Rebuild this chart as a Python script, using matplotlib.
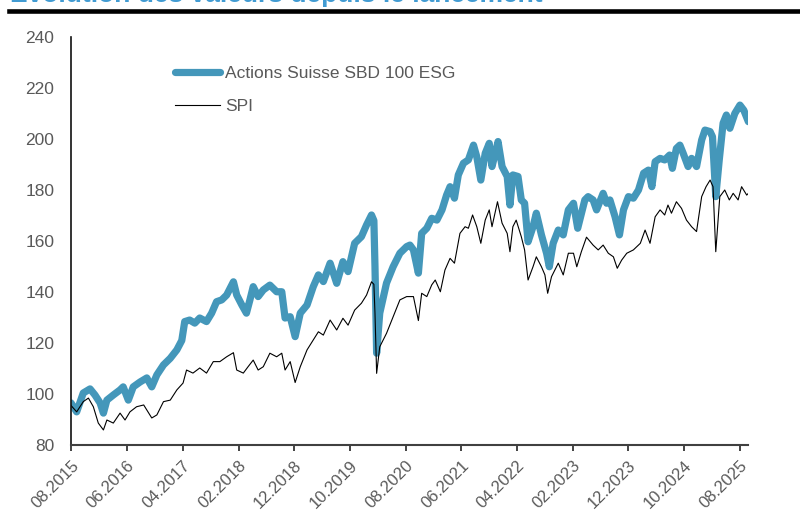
import pandas as pd
import matplotlib
matplotlib.use("Agg")
import matplotlib.pyplot as plt
from matplotlib.lines import Line2D

plt.rcParams['font.family'] = ['Liberation Sans', 'DejaVu Sans']

# Actions Suisse SBD 100 ESG
esg_dates = [
    "2015-08-01", "2015-09-01", "2015-10-07", "2015-11-13", "2015-12-10", "2016-01-07", "2016-01-25",
    "2016-02-13", "2016-03-19", "2016-04-25", "2016-05-12", "2016-06-09", "2016-07-06", "2016-08-12",
    "2016-09-18", "2016-10-15", "2016-11-12", "2016-12-18", "2017-01-24", "2017-03-01", "2017-03-28",
    "2017-04-13", "2017-05-10", "2017-06-07", "2017-07-04", "2017-08-10", "2017-09-07", "2017-10-04",
    "2017-11-01", "2017-11-28", "2018-01-04", "2018-01-22", "2018-02-19", "2018-03-16", "2018-04-04",
    "2018-04-22", "2018-05-19", "2018-06-16", "2018-07-22", "2018-08-28", "2018-09-25", "2018-10-13",
    "2018-11-10", "2018-12-07", "2019-01-04", "2019-02-10", "2019-03-16", "2019-04-13", "2019-05-10",
    "2019-06-16", "2019-07-22", "2019-08-25", "2019-09-22", "2019-10-28", "2019-12-04", "2020-01-01",
    "2020-01-28", "2020-02-10", "2020-02-16", "2020-02-25", "2020-03-13", "2020-04-19", "2020-05-25",
    "2020-07-01", "2020-08-07", "2020-08-25", "2020-09-13", "2020-10-10", "2020-10-28", "2020-11-25",
    "2020-12-22", "2021-01-19", "2021-02-16", "2021-03-13", "2021-04-01", "2021-04-25", "2021-05-16",
    "2021-06-13", "2021-07-10", "2021-08-07", "2021-08-25", "2021-09-16", "2021-10-10", "2021-11-01",
    "2021-11-16", "2021-12-04", "2021-12-19", "2022-01-10", "2022-02-07", "2022-02-22", "2022-03-10",
    "2022-04-07", "2022-04-25", "2022-05-13", "2022-06-01", "2022-06-28", "2022-07-16", "2022-08-13",
    "2022-09-10", "2022-09-25", "2022-10-16", "2022-11-13", "2022-12-10", "2023-01-07", "2023-02-04",
    "2023-02-27", "2023-04-07", "2023-04-25", "2023-05-22", "2023-06-10", "2023-07-16", "2023-08-04",
    "2023-08-22", "2023-09-19", "2023-10-13", "2023-11-04", "2023-12-01", "2023-12-28", "2024-01-25",
    "2024-02-22", "2024-03-19", "2024-04-07", "2024-04-25", "2024-05-22", "2024-06-16", "2024-07-13",
    "2024-07-28", "2024-08-19", "2024-09-07", "2024-09-25", "2024-10-22", "2024-11-10", "2024-12-07",
    "2025-01-04", "2025-01-22", "2025-02-19", "2025-03-04", "2025-03-22", "2025-04-10", "2025-05-01",
    "2025-05-19", "2025-06-07", "2025-07-04", "2025-08-01", "2025-08-22", "2025-09-16",
]
esg_values = [
    96.5, 93.0, 100.4, 102.0, 99.6, 96.5, 92.5,
    97.6, 99.6, 101.6, 102.8, 97.6, 102.8, 104.7,
    106.3, 102.8, 107.5, 111.4, 114.0, 117.3, 121.0,
    128.4, 129.0, 127.8, 129.8, 128.4, 131.7, 136.2,
    136.9, 138.8, 144.0, 138.8, 134.9, 131.7, 136.9,
    142.1, 138.2, 140.8, 142.7, 140.1, 140.1, 129.8,
    130.3, 122.5, 131.7, 134.9, 142.1, 146.7, 144.1,
    151.3, 143.4, 151.9, 148.0, 159.1, 161.7, 166.3,
    170.2, 168.0, 150.0, 116.0, 131.7, 143.5, 149.9,
    155.2, 157.8, 158.4, 156.5, 147.4, 163.0, 165.0,
    168.9, 168.2, 172.2, 178.0, 181.3, 176.8, 185.9,
    190.5, 191.8, 197.6, 193.0, 183.9, 194.4, 198.3,
    189.2, 194.4, 199.0, 189.2, 185.3, 174.1, 185.9,
    185.3, 176.1, 174.8, 159.7, 165.6, 170.9, 162.4,
    155.2, 149.9, 159.1, 164.3, 162.4, 172.2, 174.8,
    165.0, 176.1, 177.4, 176.1, 172.2, 178.7, 174.8,
    176.1, 169.5, 162.4, 172.2, 177.4, 176.8, 180.0,
    186.6, 187.8, 181.3, 191.1, 192.4, 191.8, 193.7,
    188.5, 196.3, 197.6, 194.4, 189.2, 192.4, 189.2,
    199.6, 203.5, 202.9, 200.9, 177.4, 191.8, 206.2,
    209.4, 204.2, 210.0, 213.3, 211.3, 206.8,
]

# SPI
spi_dates = [
    "2015-08-01", "2015-09-01", "2015-10-07", "2015-11-04", "2015-12-01", "2015-12-28", "2016-01-25",
    "2016-02-13", "2016-03-19", "2016-04-25", "2016-05-22", "2016-06-18", "2016-07-24", "2016-09-01",
    "2016-10-15", "2016-11-12", "2016-12-18", "2017-01-24", "2017-03-01", "2017-04-04", "2017-04-23",
    "2017-05-28", "2017-07-04", "2017-08-10", "2017-09-16", "2017-10-22", "2017-11-28", "2018-01-04",
    "2018-01-22", "2018-02-27", "2018-03-25", "2018-04-22", "2018-05-19", "2018-06-16", "2018-07-22",
    "2018-08-28", "2018-09-25", "2018-10-13", "2018-11-10", "2018-12-07", "2019-01-04", "2019-02-10",
    "2019-03-16", "2019-04-13", "2019-05-10", "2019-06-16", "2019-07-22", "2019-08-25", "2019-09-22",
    "2019-10-28", "2019-12-04", "2020-01-01", "2020-01-28", "2020-02-10", "2020-02-16", "2020-02-25",
    "2020-03-13", "2020-04-19", "2020-05-25", "2020-07-01", "2020-08-07", "2020-09-13", "2020-10-10",
    "2020-10-28", "2020-11-25", "2020-12-22", "2021-01-10", "2021-02-07", "2021-03-04", "2021-04-01",
    "2021-04-25", "2021-05-25", "2021-06-22", "2021-07-10", "2021-08-02", "2021-08-25", "2021-09-16",
    "2021-10-10", "2021-11-01", "2021-11-16", "2021-12-16", "2022-01-10", "2022-02-07", "2022-02-22",
    "2022-03-10", "2022-03-28", "2022-04-25", "2022-05-13", "2022-06-01", "2022-06-28", "2022-07-16",
    "2022-08-13", "2022-09-01", "2022-09-16", "2022-10-07", "2022-11-13", "2022-12-10", "2023-01-07",
    "2023-02-04", "2023-02-22", "2023-03-19", "2023-04-16", "2023-05-22", "2023-06-19", "2023-07-16",
    "2023-08-13", "2023-09-10", "2023-10-01", "2023-10-25", "2023-11-22", "2023-12-28", "2024-02-04",
    "2024-03-01", "2024-03-28", "2024-04-25", "2024-05-22", "2024-06-16", "2024-07-04", "2024-07-23",
    "2024-08-19", "2024-09-16", "2024-10-13", "2024-11-10", "2024-12-07", "2025-01-04", "2025-01-28",
    "2025-02-19", "2025-03-07", "2025-03-22", "2025-04-13", "2025-05-10", "2025-06-04", "2025-06-25",
    "2025-07-22", "2025-08-10", "2025-09-07", "2025-09-16",
]
spi_values = [
    95.5, 93.0, 97.0, 98.4, 95.0, 88.6, 85.9,
    89.8, 88.6, 92.5, 89.8, 93.0, 95.0, 95.7,
    90.6, 91.8, 97.0, 97.6, 101.6, 104.3, 109.4,
    108.2, 110.2, 108.2, 112.7, 112.7, 114.6, 116.2,
    109.4, 108.2, 110.7, 113.3, 109.4, 110.7, 116.0,
    114.6, 116.0, 109.4, 112.7, 104.5, 110.7, 117.3,
    121.2, 124.4, 123.1, 129.0, 125.1, 129.7, 127.0,
    132.9, 135.6, 138.8, 144.0, 143.0, 131.7, 108.1,
    118.5, 123.8, 130.3, 136.9, 138.2, 138.2, 128.8,
    139.5, 138.2, 142.8, 144.7, 140.1, 148.6, 153.2,
    151.3, 163.0, 165.6, 165.0, 170.2, 165.6, 159.1,
    168.2, 172.2, 165.6, 175.4, 167.0, 163.0, 155.8,
    165.6, 168.2, 161.7, 156.5, 144.7, 149.9, 153.8,
    149.9, 146.7, 139.5, 146.0, 151.3, 146.7, 155.2,
    155.2, 149.9, 155.8, 161.5, 158.4, 156.5, 158.4,
    155.2, 153.8, 149.3, 152.5, 155.2, 156.5, 159.1,
    164.3, 159.1, 169.5, 172.2, 170.2, 174.1, 170.9,
    175.4, 172.8, 168.2, 165.6, 163.7, 177.4, 181.3,
    183.9, 181.3, 155.8, 177.4, 180.0, 176.1, 178.7,
    176.1, 181.3, 178.0, 178.7,
]

tick_labels = ["08.2015", "06.2016", "04.2017", "02.2018", "12.2018", "10.2019", "08.2020",
               "06.2021", "04.2022", "02.2023", "12.2023", "10.2024", "08.2025"]

blue = '#4497ba'
grey = '#595959'

fig = plt.figure(figsize=(8, 5.12), dpi=100)
ax = fig.add_axes([71 / 800, 1 - 445 / 512, (748 - 71) / 800, (445 - 37) / 512])

ax.plot(pd.to_datetime(esg_dates), esg_values, color=blue, lw=5.2,
        solid_joinstyle='round', solid_capstyle='round', label='Actions Suisse SBD 100 ESG')
ax.plot(pd.to_datetime(spi_dates), spi_values, color='black', lw=0.8, label='SPI')

ticks = pd.to_datetime(tick_labels, format="%m.%Y")
ax.set_xticks(ticks)
ax.set_xticklabels(tick_labels, rotation=45, ha='right', rotation_mode='anchor',
                   fontsize=12, color=grey)
ax.set_xlim(ticks[0], pd.Timestamp("2025-09-14"))
ax.set_ylim(80, 240)
ax.set_yticks(range(80, 241, 20))
ax.tick_params(axis='y', length=0, pad=12, labelsize=12.5, labelcolor=grey)
ax.tick_params(axis='x', length=4, width=1.2, direction='out', pad=5, color='#222222')

for s in ['top', 'right']:
    ax.spines[s].set_visible(False)
ax.spines['left'].set_linewidth(1.2)
ax.spines['left'].set_color('#111111')
ax.spines['bottom'].set_linewidth(1.5)
ax.spines['bottom'].set_color('#404040')

leg = ax.legend(loc='upper left', bbox_to_anchor=(0.13, 0.968), frameon=False,
                fontsize=12.5, handlelength=2.6, handletextpad=0.3, labelspacing=1.05)
for t in leg.get_texts():
    t.set_color(grey)

# title cut at the top edge, with the black rule under it
fig.text(10 / 800, 1 - 2 / 512, "Evolution des valeurs depuis le lancement",
         fontsize=19, fontweight='bold', color='#419bd2', va='baseline', ha='left')
fig.add_artist(Line2D([9 / 800, 1], [1 - 10.8 / 512] * 2, lw=3.3, color='black'))

fig.savefig('out.png', dpi=100)
